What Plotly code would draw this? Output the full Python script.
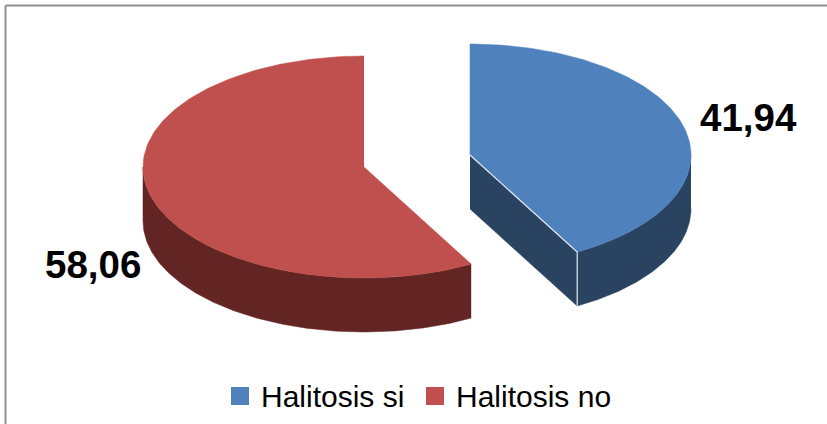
import numpy as np
import plotly.graph_objects as go

categories = ["Halitosis si", "Halitosis no"]
values = [41.94, 58.06]
value_labels = ["41,94", "58,06"]
top_colors = ["#4F81BD", "#C0504D"]
side_colors = ["#2A4361", "#632523"]

W, H = 827, 424
RX, RY, DEPTH = 221, 111, 54
centers = [(470, 155), (364, 167)]
label_pos = [(748, 117), (93, 264)]
legend_swatch_x = [240, 435]
legend_text_x = [261, 456]
LEGEND_Y = 396

total = sum(values)
split = 2 * np.pi * values[0] / total  # clockwise angle from 12 o'clock


def rim(c, a0, a1, dy=0, n=160):
    t = np.linspace(a0, a1, n)
    return c[0] + RX * np.sin(t), c[1] - RY * np.cos(t) + dy


def poly(x, y, color, line=None):
    return go.Scatter(
        x=list(x), y=list(y), mode="lines", fill="toself", fillcolor=color,
        line=dict(color=line or color, width=0.5 if line is None else 1.2),
        hoverinfo="skip", showlegend=False,
    )


fig = go.Figure()

# red slice: outer wall then top
c = centers[1]
xa, ya = rim(c, split, 1.5 * np.pi)
xb, yb = rim(c, 1.5 * np.pi, split, DEPTH)
fig.add_trace(poly(np.r_[xa, xb], np.r_[ya, yb], side_colors[1]))
x, y = rim(c, split, 2 * np.pi)
fig.add_trace(poly(np.r_[c[0], x], np.r_[c[1], y], top_colors[1]))

# blue slice: cut face, outer wall, top
c = centers[0]
ex, ey = rim(c, split, split, n=1)
fig.add_trace(poly([c[0], ex[0], ex[0], c[0]],
                   [c[1], ey[0], ey[0] + DEPTH, c[1] + DEPTH], side_colors[0]))
xa, ya = rim(c, 0.5 * np.pi, split)
xb, yb = rim(c, split, 0.5 * np.pi, DEPTH)
fig.add_trace(poly(np.r_[xa, xb], np.r_[ya, yb], side_colors[0]))
x, y = rim(c, 0, split)
fig.add_trace(poly(np.r_[c[0], x], np.r_[c[1], y], top_colors[0]))
# thin highlight on the slice's cut edge
fig.add_trace(go.Scatter(x=[c[0], ex[0], ex[0]], y=[c[1], ey[0], ey[0] + DEPTH], mode="lines",
                         line=dict(color="#E4E9EF", width=1.2), hoverinfo="skip", showlegend=False))

# legend
fig.add_trace(go.Scatter(
    x=legend_swatch_x, y=[LEGEND_Y] * 2, mode="markers",
    marker=dict(symbol="square", size=18, color=top_colors, line=dict(width=0)),
    hoverinfo="skip", showlegend=False,
))

for (lx, ly), t in zip(label_pos, value_labels):
    fig.add_annotation(x=lx, y=ly, text=f"<b>{t}</b>", showarrow=False,
                       font=dict(family="Liberation Sans", size=38.5, color="#000000"),
                       xanchor="center", yanchor="middle")
for lx, t in zip(legend_text_x, categories):
    fig.add_annotation(x=lx, y=LEGEND_Y, text=t, showarrow=False, xshift=-2,
                       font=dict(family="Liberation Sans", size=30, color="#000000"),
                       xanchor="left", yanchor="middle")

# frame: only top and left edges are visible in the crop
fig.add_shape(type="line", x0=5.5, x1=W, y0=5.5, y1=5.5, line=dict(color="#8F8F8F", width=2))
fig.add_shape(type="line", x0=5.5, x1=5.5, y0=5.5, y1=H, line=dict(color="#8F8F8F", width=2))

fig.update_layout(
    width=W, height=H, margin=dict(l=0, r=0, t=0, b=0),
    paper_bgcolor="white", plot_bgcolor="white", showlegend=False,
    xaxis=dict(range=[0, W], visible=False, fixedrange=True),
    yaxis=dict(range=[H, 0], visible=False, fixedrange=True),
)
fig.write_html(
    "out.html",
    config={"displayModeBar": False},
    post_script="document.body.style.margin='0';document.body.style.overflow='hidden';",
)
